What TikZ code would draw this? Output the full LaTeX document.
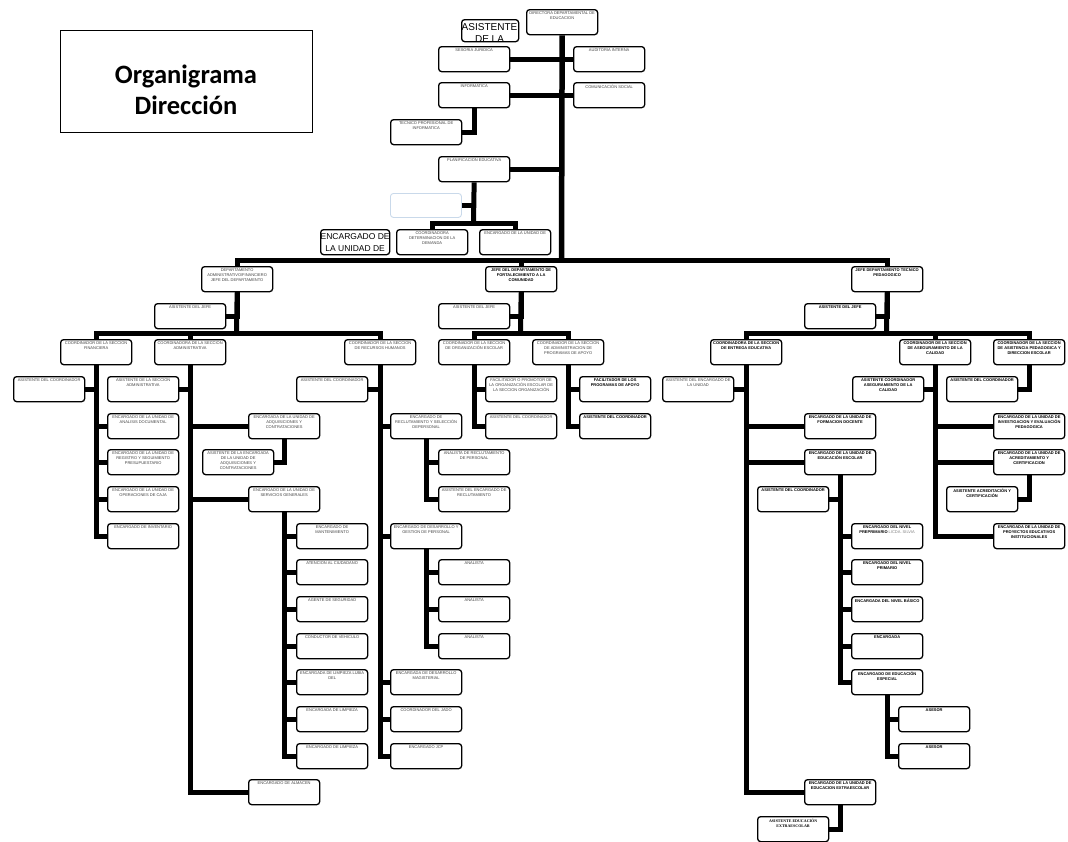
\documentclass[tikz,border=0pt]{standalone}
\usepackage{fontspec}
\setmainfont{Liberation Sans}
\newfontfamily\titlefont{Carlito}
\newfontfamily\serifb{Liberation Serif}
\definecolor{emptyc}{HTML}{C9D9EA}
\newcommand\bxfont{\fontsize{4}{5}\selectfont}
\newcommand\ob[4][]{\node[ob,#1] (#2) at (#3) {\parbox[c][20pt][t]{69pt}{\centering #4\par}};}
\begin{document}
\begin{tikzpicture}[x=1pt,y=-1pt,
  ob/.style={draw, rounded corners=3pt, line width=1.3pt, anchor=north west, inner xsep=1pt, inner ysep=2.5pt, font=\bxfont, text=black!75},
  bd/.style={font=\bxfont\bfseries, text=black},
  conn/.style={line width=5pt, draw=black}]
\useasboundingbox (0,0) rectangle (1068,841);

% title
\node[draw, line width=1.2pt, anchor=north west, minimum width=252pt, minimum height=102pt, inner sep=0] (title) at (60,30) {};
\node[font=\titlefont\bfseries\fontsize{26.5}{31}\selectfont, align=center] (titletxt) at (186,90) {Organigrama\\Dirección};

% top level
\ob{dir}{526,9}{DIRECTORA DEPARTAMENTAL DE\\EDUCACION}
\node[draw, rounded corners=3pt, line width=1.3pt, anchor=north west, minimum width=57pt, minimum height=22pt, inner sep=0] (asis) at (461,19) {};
\begin{scope}
\clip[rounded corners=3pt] (asis.north west) rectangle (asis.south east);
\node[font=\fontsize{10}{11.5}\selectfont, align=center, inner sep=0, anchor=north] (asistxt) at (489.5,23.5) {ASISTENTE\\DE LA};
\end{scope}
\ob{sesoria}{438,46}{SESORIA JURIDICA}
\ob{auditoria}{573,46}{AUDITORIA INTERNA}
\ob{informatica}{438,82}{INFORMATICA}
\ob{comunicacion}{573,82}{COMUNICACIÓN SOCIAL}
\ob{tecnico}{390,119}{TECNICO PROFESIONAL DE\\INFORMATICA}
\ob{planif}{438,156}{PLANIFICACION EDUCATIVA}
\node[draw=emptyc, rounded corners=3pt, line width=0.9pt, anchor=north west, minimum width=71pt, minimum height=24pt, inner sep=0] (emptyb) at (390,193) {};
\ob{coordem}{396,229}{COORDINADORA\\DETERMINACION DE LA\\DEMANDA}
\ob{encu}{479,229}{ENCARGADO DE LA UNIDAD DE}
\node[draw, rounded corners=3pt, line width=1.3pt, anchor=north west, minimum width=69pt, minimum height=25pt, inner sep=0, font=\fontsize{8.5}{12}\selectfont, align=center] (encbig) at (320,229) {ENCARGADO DE\\LA UNIDAD DE};

% departments
\ob{dadm}{201,266}{DEPARTAMENTO\\ADMINISTRATIVO/FINANCIERO\\JEFE DEL DEPARTAMENTO}
\ob[bd]{dfort}{485,266}{JEFE DEL DEPARTAMENTO DE\\FORTALECIMIENTO A LA\\COMUNIDAD}
\ob[bd]{dtec}{851,266}{JEFE DEPARTAMENTO TECNICO\\PEDAGOGICO}

% admin / financiero
\ob{asj1}{154,303}{ASISTENTE DEL JEFE}
\ob{fin}{60,339}{COORDINADOR DE LA SECCION\\FINANCIERA}
\ob{adm}{154,339}{COORDINADORA DE LA SECCION\\ADMINISTRATIVA}
\ob{rrhh}{344,339}{COORDINADOR DE LA SECCION\\DE RECURSOS HUMANOS}
\ob{asc1}{13,376}{ASISTENTE DEL COORDINADOR}
\ob{asa}{107,376}{ASISTENTE DE LA SECCION\\ADMINISTRATIVA}
\ob{anal}{107,413}{ENCARGADO DE LA UNIDAD DE\\ANALISIS DOCUMENTAL}
\ob{regi}{107,449}{ENCARGADO DE LA UNIDAD DE\\REGISTRO Y SEGUIMIENTO\\PRESUPUESTARIO}
\ob{caja}{107,486}{ENCARGADO DE LA UNIDAD DE\\OPERACIONES DE CAJA}
\ob{inv}{107,523}{ENCARGADO DE INVENTARIO}
\ob{adq}{248,413}{ENCARGADA DE LA UNIDAD DE\\ADQUISICIONES Y\\CONTRATACIONES}
\ob{asadq}{202,449}{ASISTENTE DE LA ENCARGADA\\DE LA UNIDAD DE\\ADQUISICIONES Y\\CONTRATACIONES}
\ob{serv}{248,486}{ENCARGADO DE LA UNIDAD DE\\SERVICIOS GENERALES}
\ob{mant}{296,523}{ENCARGADO DE\\MANTENIMIENTO}
\ob{aten}{296,559}{ATENCION AL CIUDADANO}
\ob{seg}{296,596}{AGENTE DE SEGURIDAD}
\ob{cond}{296,633}{CONDUCTOR DE VEHICULO}
\ob{limp1}{296,669}{ENCARGADA DE LIMPIEZA LUBIA\\DEL}
\ob{limp2}{296,706}{ENCARGADA DE LIMPIEZA}
\ob{limp3}{296,743}{ENCARGADO DE LIMPIEZA}
\ob{alm}{248,779}{ENCARGADO DE ALMACEN}
\ob{asrh}{296,376}{ASISTENTE DEL COORDINADOR}
\ob{recl}{390,413}{ENCARGADO DE\\RECLUTAMIENTO Y SELECCIÓN\\DEPERSONAL}
\ob{anrec}{438,449}{ANALISTA DE RECLUTAMIENTO\\DE PERSONAL}
\ob{asrec}{438,486}{ASISTENTE DEL ENCARGADO DE\\RECLUTAMIENTO}
\ob{desp}{390,523}{ENCARGADO DE DESARROLLO Y\\GESTION DE PERSONAL}
\ob{an1}{438,559}{ANALISTA}
\ob{an2}{438,596}{ANALISTA}
\ob{an3}{438,633}{ANALISTA}
\ob{desmag}{390,669}{ENCARGADA DE DESARROLLO\\MAGISTERIAL}
\ob{jado}{390,706}{COORDINADOR DEL JADO}
\ob{jcp}{390,743}{ENCARGADO JCP}

% fortalecimiento
\ob{asj2}{438,303}{ASISTENTE DEL JEFE}
\ob{orgesc}{438,339}{COORDINADOR DE LA SECCION\\DE ORGANIZACIÓN ESCOLAR}
\ob{prog}{532,339}{COORDINADOR DE LA SECCION\\DE ADMINISTRACION DE\\PROGRAMAS DE APOYO}
\ob{facil}{485,376}{FACILITADOR O PROMOTOR DE\\LA ORGANIZACIÓN ESCOLAR DE\\LA SECCION ORGANIZACIÓN}
\ob{ascoe}{485,413}{ASISTENTE DEL COORDINADOR}
\ob[bd]{facprog}{579,376}{FACILITADOR DE LOS\\PROGRAMAS DE APOYO}
\ob[bd]{ascprog}{579,413}{ASISTENTE DEL COORDINADOR}

% tecnico pedagogico
\ob[bd]{asj3}{804,303}{ASISTENTE DEL JEFE}
\ob[bd]{entrega}{710,339}{COORDINADORA DE LA SECCION\\DE ENTREGA EDUCATIVA}
\ob[bd]{calidad}{899,339}{COORDINADOR DE LA SECCION\\DE ASEGURAMIENTO DE LA\\CALIDAD}
\ob[bd]{asped}{993,339}{COORDINADOR DE LA SECCION\\DE ASISTENCIA PEDAGOGICA Y\\DIRECCION ESCOLAR}
\ob{asenc}{662,376}{ASISTENTE DEL ENCARGADO DE\\LA UNIDAD}
\ob[bd]{formdoc}{804,413}{ENCARGADO DE LA UNIDAD DE\\FORMACION DOCENTE}
\ob[bd]{eduesc}{804,449}{ENCARGADO DE LA UNIDAD DE\\EDUCACIÓN ESCOLAR}
\ob[bd]{ascoord}{757,486}{ASISTENTE DEL COORDINADOR}
\ob[bd]{prepri}{851,523}{ENCARGADO DEL NIVEL\\PREPRIMARIO {\mdseries\color{black!50}LICDA. SILVIA}}
\ob[bd]{primario}{851,559}{ENCARGADO DEL NIVEL\\PRIMARIO}
\ob[bd]{basico}{851,596}{ENCARGADA DEL NIVEL BÁSICO}
\ob[bd]{encda}{851,633}{ENCARGADA}
\ob[bd]{especial}{851,669}{ENCARGADO DE EDUCACIÓN\\ESPECIAL}
\ob[bd]{asesor1}{898,706}{ASESOR}
\ob[bd]{asesor2}{898,743}{ASESOR}
\ob[bd]{extra}{804,779}{ENCARGADO DE LA UNIDAD DE\\EDUCACION EXTRAESCOLAR}
\ob[bd,font=\bxfont\serifb\bfseries]{asextra}{757,816}{ASISTENTE EDUCACIÓN\\EXTRAESCOLAR}
\ob[bd]{ascal}{852,376}{ASISTENTE COORDINADOR\\ASEGURAMIENTO DE LA\\CALIDAD}
\ob[bd]{invest}{993,413}{ENCARGADO DE LA UNIDAD DE\\INVESTIGACION Y EVALUACIÓN\\PEDAGOGICA}
\ob[bd]{acred}{993,449}{ENCARGADO DE LA UNIDAD DE\\ACREDITAMIENTO Y\\CERTIFICACION}
\ob[bd]{asacred}{946,486}{ASISTENTE ACREDITACIÓN Y\\CERTIFICACIÓN}
\ob[bd]{proyec}{993,523}{ENCARGADA DE LA UNIDAD DE\\PROYECTOS EDUCATIVOS\\INSTITUCIONALES}
\ob[bd]{ascoord2}{946,376}{ASISTENTE DEL COORDINADOR}

% ---------- connectors ----------
\coordinate (bus) at (561.5,260);
\coordinate (pb) at (473.5,223);
\coordinate (ba) at (236.5,333);
\coordinate (bf) at (520.5,333);
\coordinate (bt) at (886.5,333);

\draw[conn, line width=5.5pt] (dir.south) -- (bus);
\draw[conn] (dadm.north) |- (bus) -| (dtec.north);
\draw[conn] (bus) -| (dfort.north);
\draw[conn] (sesoria.east) -- (auditoria.west);
\draw[conn] (informatica.east) -- (comunicacion.west);
\draw[conn] (planif.east) -- (planif.east -| dir.south);
\draw[conn] (informatica.south) |- (tecnico.east);
\draw[conn] (planif.south) -- (pb);
\draw[conn] (coordem.north) |- (pb) -| (encu.north);
\draw[conn] (emptyb.east) -- (emptyb.east -| pb);

% admin
\draw[conn] (dadm.south) -- (ba);
\draw[conn] (dadm.south) |- (asj1.east);
\draw[conn] (fin.north) |- (ba) -| (rrhh.north);
\draw[conn] (ba) -| (adm.north);
\draw[conn] (fin.south) |- (asc1.east);
\foreach \c in {anal,regi,caja,inv} \draw[conn] (fin.south) |- (\c.west);
\draw[conn] (adm.south) |- (asa.east);
\foreach \c in {adq,serv,alm} \draw[conn] (adm.south) |- (\c.west);
\draw[conn] (adq.south) |- (asadq.east);
\foreach \c in {mant,aten,seg,cond,limp1,limp2,limp3} \draw[conn] (serv.south) |- (\c.west);
\draw[conn] (rrhh.south) |- (asrh.east);
\foreach \c in {recl,desp,desmag,jado,jcp} \draw[conn] (rrhh.south) |- (\c.west);
\foreach \c in {anrec,asrec} \draw[conn] (recl.south) |- (\c.west);
\foreach \c in {an1,an2,an3} \draw[conn] (desp.south) |- (\c.west);

% fortalecimiento
\draw[conn] (dfort.south) -- (bf);
\draw[conn] (dfort.south) |- (asj2.east);
\draw[conn] (orgesc.north) |- (bf) -| (prog.north);
\foreach \c in {facil,ascoe} \draw[conn] (orgesc.south) |- (\c.west);
\foreach \c in {facprog,ascprog} \draw[conn] (prog.south) |- (\c.west);

% tecnico
\draw[conn] (dtec.south) -- (bt);
\draw[conn] (dtec.south) |- (asj3.east);
\draw[conn] (entrega.north) |- (bt) -| (asped.north);
\draw[conn] (bt) -| (calidad.north);
\draw[conn] (entrega.south) |- (asenc.east);
\foreach \c in {formdoc,eduesc,extra} \draw[conn] (entrega.south) |- (\c.west);
\draw[conn] (eduesc.south) |- (ascoord.east);
\foreach \c in {prepri,primario,basico,encda,especial} \draw[conn] (eduesc.south) |- (\c.west);
\foreach \c in {asesor1,asesor2} \draw[conn] (especial.south) |- (\c.west);
\draw[conn] (extra.south) |- (asextra.east);
\draw[conn] (calidad.south) |- (ascal.east);
\foreach \c in {invest,acred,proyec} \draw[conn] (calidad.south) |- (\c.west);
\draw[conn] (acred.south) |- (asacred.east);
\draw[conn] (asped.south) |- (ascoord2.east);
\end{tikzpicture}
\end{document}
